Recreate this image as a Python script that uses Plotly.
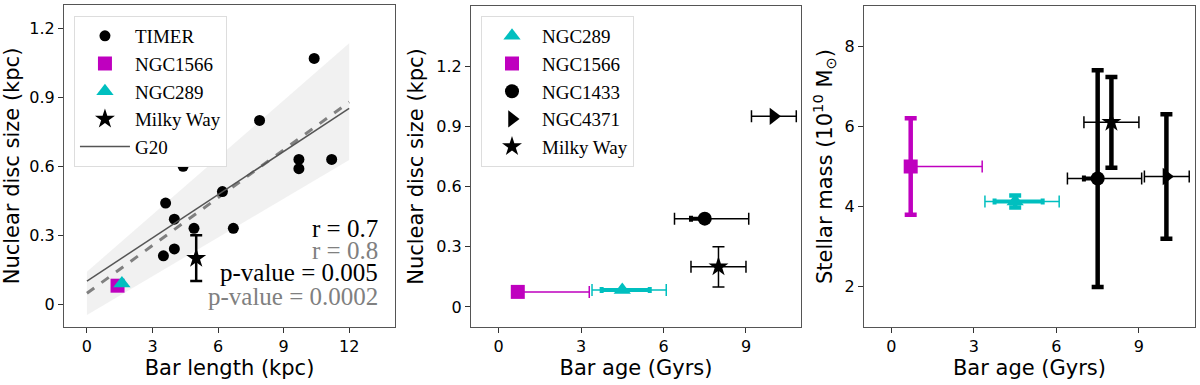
import plotly.graph_objects as go

# panel 1: nuclear disc size vs bar length
timer_len = [4.4, 10.4, 7.9, 9.7, 9.7, 11.2, 6.2, 3.6, 4.0, 4.9, 6.7, 3.5, 4.0]
timer_size = [0.60, 1.07, 0.80, 0.63, 0.59, 0.63, 0.49, 0.44, 0.37, 0.33, 0.33, 0.21, 0.24]
n1566_len, n1566_size = [1.4], [0.08]
n289_len, n289_size = [1.6], [0.09]
mw_len, mw_size, mw_size_err = [5.0], [0.2], [0.1]

line_x = [0, 12]
g20_y = [0.10, 0.853]
fit_y = [0.047, 0.880]
band_hi = [0.141, 1.136]
band_lo = [-0.048, 0.628]

stats_text = ["r = 0.7", "r = 0.8", "p-value = 0.005", "p-value = 0.0002"]

# panels 2 and 3: bar ages
names = ["NGC289", "NGC1566", "NGC1433", "NGC4371", "Milky Way"]
age = [4.5, 0.7, 7.5, 10.0, 8.0]
age_err_lo = [1.1, 0.0, 1.1, 0.8, 1.0]
age_err_hi = [1.6, 2.6, 1.6, 0.83, 1.0]
age_err2_lo = [0.75, 0.0, 0.5, 0.0, 0.0]
age_err2_hi = [1.0, 0.0, 0.0, 0.0, 0.0]
nd_size = [0.085, 0.075, 0.44, 0.95, 0.2]
nd_size_err = [0.0, 0.0, 0.0, 0.0, 0.1]
mass = [4.13, 5.0, 4.7, 4.75, 6.1]
mass_err = [0.15, 1.2, 2.7, 1.55, 1.13]

colors = ["#00bfbf", "#bf00bf", "black", "black", "black"]
symbols = ["triangle-up", "square", "circle", "triangle-right", "star"]
sizes = [15, 14, 14, 15, 15]

SERIF = "Liberation Serif"
SANS = "DejaVu Sans"
GREY = "#808080"

fig = go.Figure()

# band + lines
fig.add_trace(go.Scatter(x=line_x, y=band_lo, mode="lines", line=dict(width=0),
                         showlegend=False, hoverinfo="skip", xaxis="x", yaxis="y"))
fig.add_trace(go.Scatter(x=line_x, y=band_hi, mode="lines", line=dict(width=0),
                         fill="tonexty", fillcolor="rgba(200,200,200,0.25)",
                         showlegend=False, hoverinfo="skip", xaxis="x", yaxis="y"))
fig.add_trace(go.Scatter(x=line_x, y=fit_y, mode="lines",
                         line=dict(color=GREY, width=3, dash="dash"),
                         showlegend=False, xaxis="x", yaxis="y"))

fig.add_trace(go.Scatter(x=timer_len, y=timer_size, mode="markers", name="TIMER",
                         marker=dict(color="black", size=11), legend="legend",
                         xaxis="x", yaxis="y"))
fig.add_trace(go.Scatter(x=n1566_len, y=n1566_size, mode="markers", name="NGC1566",
                         marker=dict(color="#bf00bf", size=14, symbol="square"),
                         legend="legend", xaxis="x", yaxis="y"))
fig.add_trace(go.Scatter(x=n289_len, y=n289_size, mode="markers", name="NGC289",
                         marker=dict(color="#00bfbf", size=15, symbol="triangle-up"),
                         legend="legend", xaxis="x", yaxis="y"))
fig.add_trace(go.Scatter(x=mw_len, y=mw_size, mode="markers", name="Milky Way",
                         marker=dict(color="black", size=15, symbol="star"),
                         error_y=dict(type="data", array=mw_size_err, color="black",
                                      thickness=2.5, width=6),
                         legend="legend", xaxis="x", yaxis="y"))
fig.add_trace(go.Scatter(x=line_x, y=g20_y, mode="lines", name="G20",
                         line=dict(color="#555555", width=1.5),
                         legend="legend", xaxis="x", yaxis="y"))

# panels 2 and 3
for i in range(len(names)):
    c = colors[i]
    # horizontal (age) errors
    for xa, ya, yv in (("x2", "y2", nd_size[i]), ("x3", "y3", mass[i])):
        fig.add_trace(go.Scatter(
            x=[age[i]], y=[yv], mode="markers", marker=dict(size=1, color=c, opacity=0),
            error_x=dict(type="data", symmetric=False, array=[age_err_hi[i]],
                         arrayminus=[age_err_lo[i]], color=c, thickness=1.5, width=6),
            showlegend=False, hoverinfo="skip", xaxis=xa, yaxis=ya))
        if age_err2_lo[i] > 0 or age_err2_hi[i] > 0:
            fig.add_trace(go.Scatter(
                x=[age[i]], y=[yv], mode="markers", marker=dict(size=1, color=c, opacity=0),
                error_x=dict(type="data", symmetric=False, array=[age_err2_hi[i]],
                             arrayminus=[age_err2_lo[i]], color=c, thickness=4, width=3),
                showlegend=False, hoverinfo="skip", xaxis=xa, yaxis=ya))
    # panel 2 markers
    fig.add_trace(go.Scatter(
        x=[age[i]], y=[nd_size[i]], mode="markers", name=names[i],
        marker=dict(color=c, size=sizes[i], symbol=symbols[i]),
        error_y=dict(type="data", array=[nd_size_err[i]], color=c, thickness=1.5, width=6,
                     visible=nd_size_err[i] > 0),
        legend="legend2", xaxis="x2", yaxis="y2"))
    # panel 3 markers
    fig.add_trace(go.Scatter(
        x=[age[i]], y=[mass[i]], mode="markers", name=names[i],
        marker=dict(color=c, size=sizes[i], symbol=symbols[i]),
        error_y=dict(type="data", array=[mass_err[i]], color=c, thickness=4.5, width=6),
        showlegend=False, xaxis="x3", yaxis="y3"))

for k, txt in enumerate(stats_text):
    fig.add_annotation(x=0.955, y=[0.307, 0.239, 0.168, 0.096][k], xref="x domain", yref="y domain",
                       text=txt, showarrow=False, xanchor="right", yanchor="middle",
                       font=dict(family=SERIF, size=25, color="black" if k % 2 == 0 else GREY))

axis_common = dict(showline=True, mirror=True, linecolor="#555555", linewidth=1.2,
                   ticks="outside", ticklen=5, tickcolor="#333333", showgrid=False,
                   zeroline=False, automargin=False,
                   tickfont=dict(family=SANS, size=16, color="black"),
                   title_font=dict(family=SANS, size=21, color="black"))

legend_common = dict(font=dict(family=SERIF, size=19, color="black"), bgcolor="white",
                     bordercolor="#dddddd", borderwidth=1, xanchor="left", yanchor="top",
                     itemwidth=50, traceorder="normal")

fig.update_layout(
    width=1200, height=385, margin=dict(l=64, r=5, t=5, b=58),
    plot_bgcolor="white", paper_bgcolor="white",
    xaxis=dict(domain=[0.0, 0.2927], range=[-1.05, 14.1], tickvals=[0, 3, 6, 9, 12],
               title=dict(text="Bar length (kpc)", standoff=4), anchor="y", **axis_common),
    yaxis=dict(domain=[0.0, 1.0], range=[-0.1, 1.303], tickvals=[0, 0.3, 0.6, 0.9, 1.2],
               title=dict(text="Nuclear disc size (kpc)", standoff=6), anchor="x", **axis_common),
    xaxis2=dict(domain=[0.3599, 0.6516], range=[-1.0, 11.0], tickvals=[0, 3, 6, 9],
                title=dict(text="Bar age (Gyrs)", standoff=4), anchor="y2", **axis_common),
    yaxis2=dict(domain=[0.0, 0.9969], range=[-0.1, 1.5], tickvals=[0, 0.3, 0.6, 0.9, 1.2],
                title=dict(text="Nuclear disc size (kpc)", standoff=6), anchor="x2", **axis_common),
    xaxis3=dict(domain=[0.7073, 1.0], range=[-1.0, 11.04], tickvals=[0, 3, 6, 9],
                title=dict(text="Bar age (Gyrs)", standoff=4), anchor="y3", **axis_common),
    yaxis3=dict(domain=[0.0, 0.9969], range=[1.0, 9.0], tickvals=[2, 4, 6, 8],
                title=dict(text="Stellar mass (10<sup>10</sup> M<sub>⊙</sub>)", standoff=6),
                anchor="x3", **axis_common),
    legend=dict(x=0.0088, y=0.966, **legend_common),
    legend2=dict(x=0.3687, y=0.966, **legend_common),
)

# drop the default 8px page margin so the figure sits at the window corner
fig.write_html("out.html", config={"displayModeBar": False},
               post_script="document.body.style.margin='0px';")
